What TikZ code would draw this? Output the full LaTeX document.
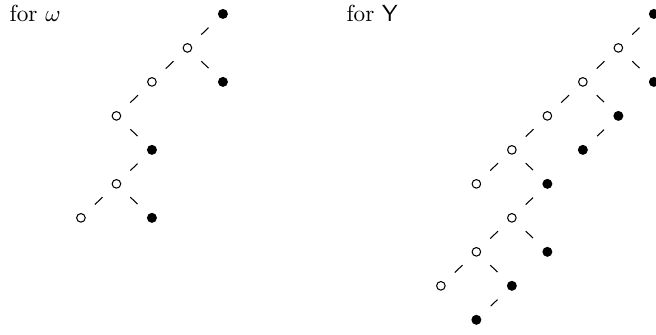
\documentclass[tikz,border=0pt]{standalone}
\usetikzlibrary{positioning}
\tikzset{
  hollow/.style={circle, draw, inner sep=0pt, minimum size=3.7pt, line width=0.45pt},
  solid dot/.style={circle, fill, inner sep=0pt, minimum size=4.3pt},
  link/.style={line width=0.45pt, shorten >=6.2pt, shorten <=6.2pt},
}
\begin{document}
\begin{tikzpicture}[x=15.27pt, y=-14.62pt]
  \useasboundingbox (0,0) rectangle (18.48,9.853);
  \node[anchor=base west, inner sep=0pt] (lblw) at (0.26,0.62) {for $\omega$};
  \node[anchor=base west, inner sep=0pt] (lbly) at (9.75,0.62) {for $\mathsf{Y}$};
  % tree for omega
  \begin{scope}[shift={(2.28,0.41)}]
    \node[solid dot] (w1) at (4,0) {};
    \node[hollow]    (w2) at (3,1) {};
    \node[solid dot] (w3) at (4,2) {};
    \node[hollow]    (w4) at (2,2) {};
    \node[hollow]    (w5) at (1,3) {};
    \node[solid dot] (w6) at (2,4) {};
    \node[hollow]    (w7) at (1,5) {};
    \node[hollow]    (w8) at (0,6) {};
    \node[solid dot] (w9) at (2,6) {};
  \end{scope}
  \foreach \a/\b in {w1/w2, w2/w3, w2/w4, w4/w5, w5/w6, w6/w7, w7/w8, w7/w9}
    \draw[link] (\a) -- (\b);
  % tree for Y
  \begin{scope}[shift={(12.42,0.41)}]
    \node[solid dot] (y1)  at (6,0) {};
    \node[hollow]    (y2)  at (5,1) {};
    \node[solid dot] (y3)  at (6,2) {};
    \node[hollow]    (y4)  at (4,2) {};
    \node[solid dot] (y5)  at (5,3) {};
    \node[hollow]    (y6)  at (3,3) {};
    \node[solid dot] (y7)  at (4,4) {};
    \node[hollow]    (y8)  at (2,4) {};
    \node[hollow]    (y9)  at (1,5) {};
    \node[solid dot] (y10) at (3,5) {};
    \node[hollow]    (y11) at (2,6) {};
    \node[hollow]    (y12) at (1,7) {};
    \node[solid dot] (y13) at (3,7) {};
    \node[hollow]    (y14) at (0,8) {};
    \node[solid dot] (y15) at (2,8) {};
    \node[solid dot] (y16) at (1,9) {};
  \end{scope}
  \foreach \a/\b in {y1/y2, y2/y3, y2/y4, y4/y5, y4/y6, y5/y7, y6/y8, y8/y9,
      y8/y10, y10/y11, y11/y12, y11/y13, y12/y14, y12/y15, y15/y16}
    \draw[link] (\a) -- (\b);
\end{tikzpicture}
\end{document}
